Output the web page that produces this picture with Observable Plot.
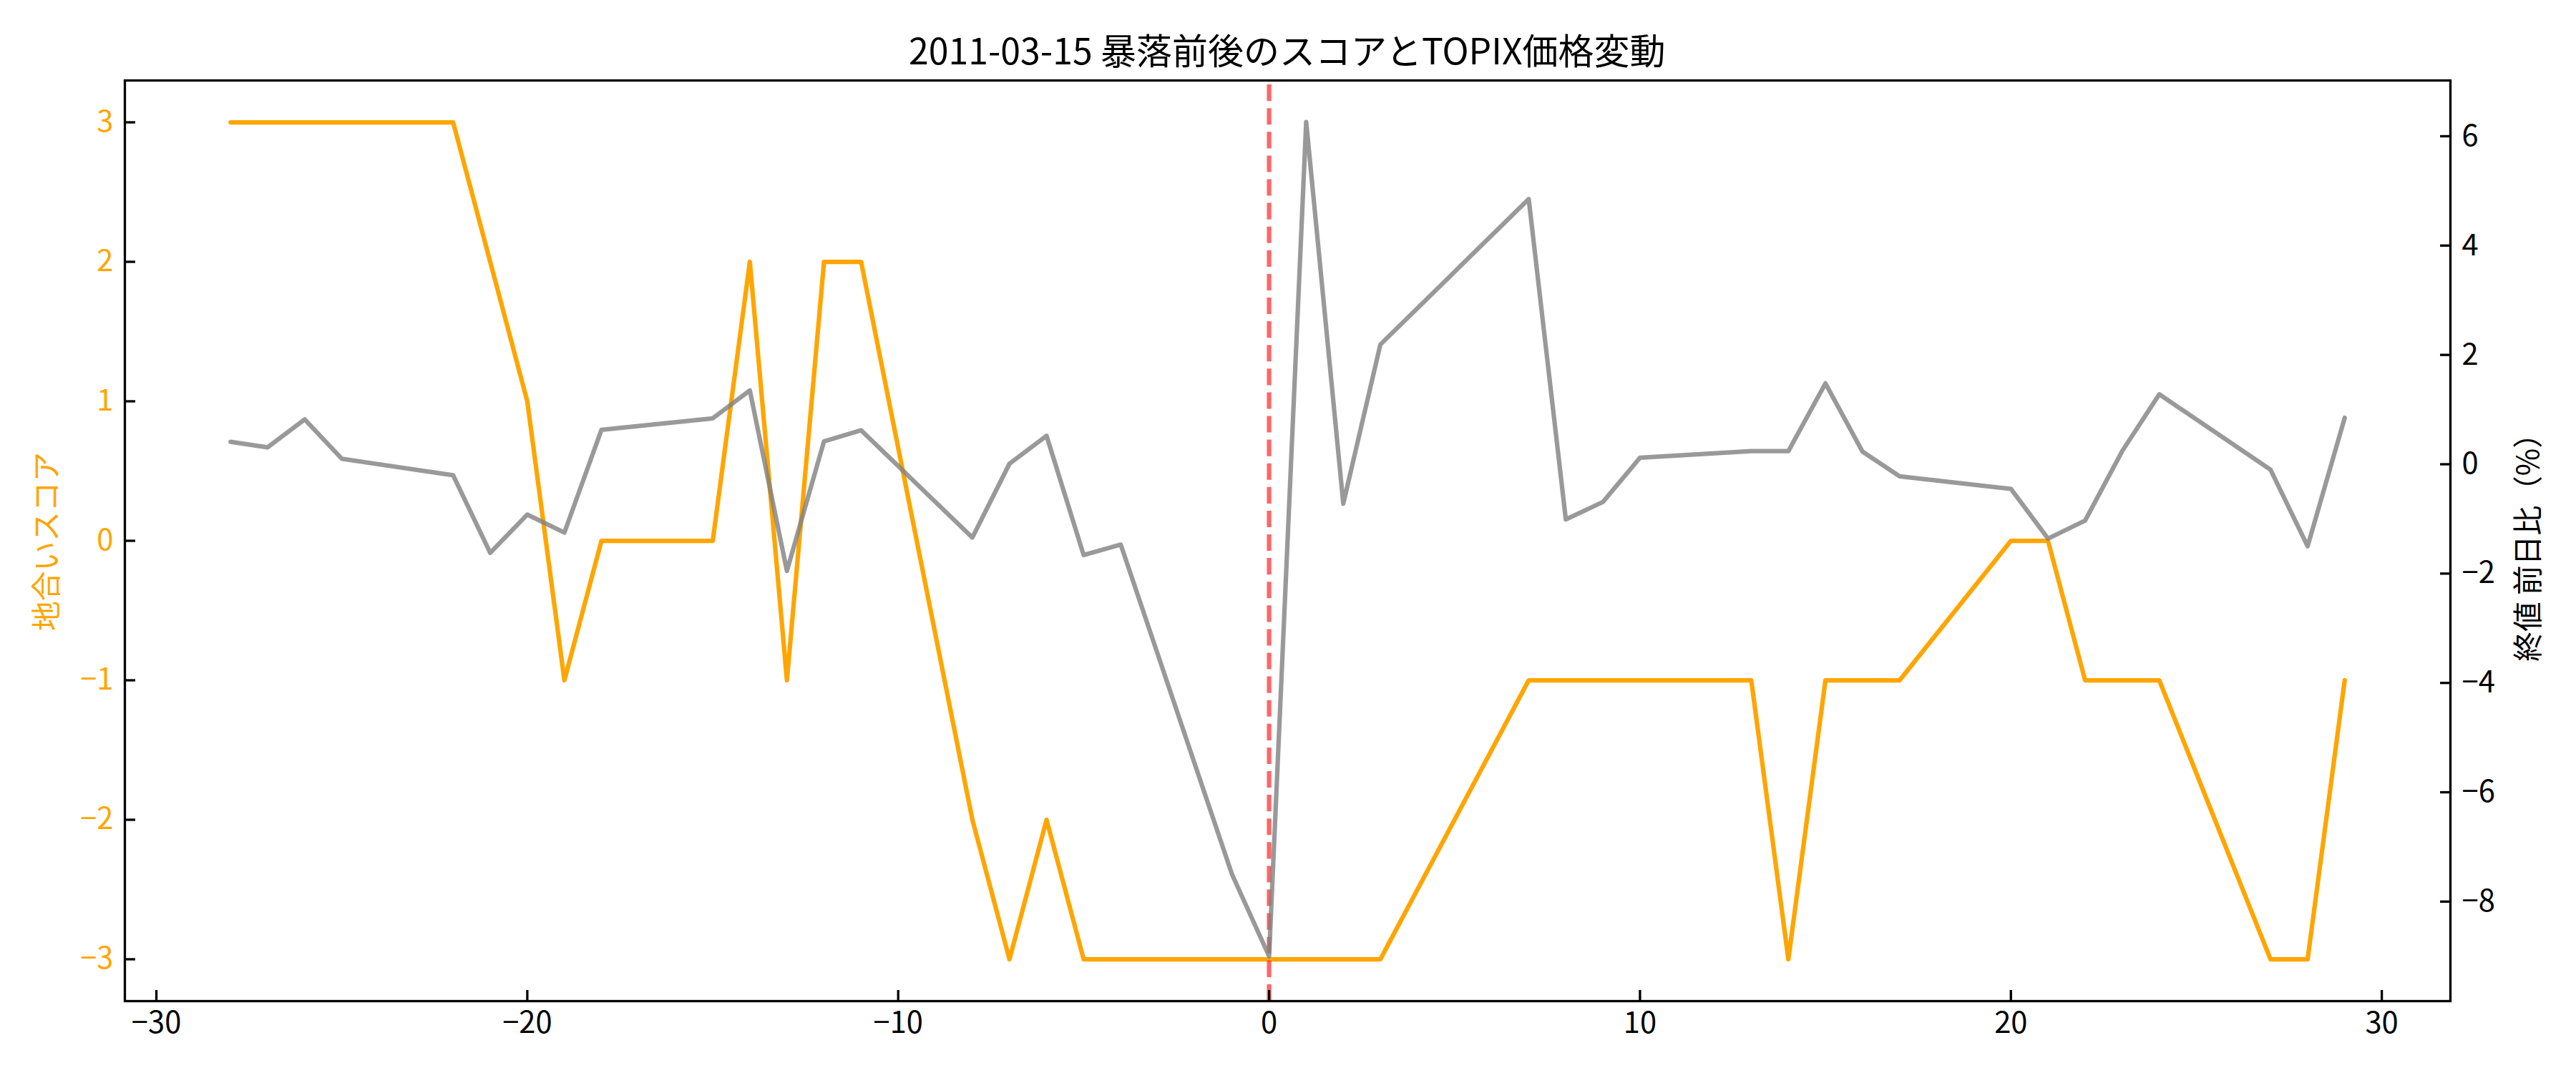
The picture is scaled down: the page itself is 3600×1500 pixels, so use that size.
<!DOCTYPE html>
<html>
<head>
<meta charset="utf-8">
<script src="https://cdn.jsdelivr.net/npm/d3@7"></script>
<script src="https://cdn.jsdelivr.net/npm/@observablehq/plot@0.6"></script>
<style>
  html, body { margin: 0; padding: 0; background: #fff; }
  #wrap { position: relative; width: 3600px; height: 1500px; font-family: "Noto Sans CJK JP", "Noto Sans", sans-serif; }
  #wrap svg { position: absolute; left: 0; top: 0; background: transparent; }
  .lbl { position: absolute; white-space: nowrap; font-size: 41.7px; line-height: 1; }
</style>
</head>
<body>
<div id="wrap"></div>
<script>
// ---- data ----
const days = [-28,-27,-26,-25,-22,-21,-20,-19,-18,-15,-14,-13,-12,-11,-8,-7,-6,-5,-4,-1,0,1,2,3,7,8,9,10,13,14,15,16,17,20,21,22,23,24,27,28,29];
const scores = [3,3,3,3,3,2,1,-1,0,0,2,-1,2,2,-2,-3,-2,-3,-3,-3,-3,-3,-3,-3,-1,-1,-1,-1,-1,-3,-1,-1,-1,0,0,-1,-1,-1,-3,-3,-1];
const topixChange = [0.41,0.31,0.82,0.10,-0.20,-1.62,-0.92,-1.25,0.63,0.84,1.35,-1.95,0.42,0.62,-1.34,0.01,0.52,-1.66,-1.47,-7.50,-9.00,6.26,-0.72,2.19,4.85,-1.01,-0.69,0.12,0.24,0.24,1.48,0.23,-0.22,-0.45,-1.36,-1.03,0.24,1.28,-0.10,-1.50,0.85];
const crashDay = [0];
const xTicks = [-30,-20,-10,0,10,20,30];
const leftTicks = [-3,-2,-1,0,1,2,3];
const rightTicks = [-8,-6,-4,-2,0,2,4,6];
const titleText = "2011-03-15 暴落前後のスコアとTOPIX価格変動";
const leftLabel = "地合いスコア";
const rightLabel = "終値 前日比（%）";

const scoreRows = days.map((d, i) => ({day: d, v: scores[i]}));
const topixRows = days.map((d, i) => ({day: d, v: topixChange[i]}));

const W = 3600, H = 1500;
const margins = {marginLeft: 174, marginRight: 176, marginTop: 112, marginBottom: 101};
const xDomain = [-30.85, 31.85];
const fmt = d3.format("d");
const lw = 6.25;
const font = {fontFamily: '"Noto Sans CJK JP", "Noto Sans", sans-serif', fontSize: "41.7px", background: "transparent", overflow: "visible"};

const p1 = Plot.plot({
  width: W, height: H, ...margins,
  style: font,
  x: {domain: xDomain, axis: null},
  y: {domain: [-3.3, 3.3], axis: null},
  marks: [
    Plot.line(scoreRows, {x: "day", y: "v", stroke: "orange", strokeWidth: lw}),
    Plot.ruleX(crashDay, {x: d => d, y1: -3.3, y2: 3.3, stroke: "red", strokeOpacity: 0.6, strokeWidth: lw, strokeDasharray: "23.1,10", strokeLinecap: "butt"}),
    Plot.axisX({ticks: xTicks, tickSize: -15, tickPadding: 30, tickFormat: fmt, strokeWidth: 3.3, label: null}),
    Plot.axisY({ticks: leftTicks, tickSize: -15, tickFormat: () => "", strokeWidth: 3.3, label: null}),
    Plot.axisY({ticks: leftTicks, tickSize: 0, tickPadding: 16, tickFormat: fmt, color: "orange", label: null}),
    Plot.frame({stroke: "black", strokeWidth: 3.3})
  ]
});

const p2 = Plot.plot({
  width: W, height: H, ...margins,
  style: font,
  x: {domain: xDomain, axis: null},
  y: {domain: [-9.82, 7.02], axis: null},
  marks: [
    Plot.line(topixRows, {x: "day", y: "v", stroke: "gray", strokeOpacity: 0.8, strokeWidth: lw}),
    Plot.axisY({anchor: "right", ticks: rightTicks, tickSize: -15, tickFormat: () => "", strokeWidth: 3.3, label: null}),
    Plot.axisY({anchor: "right", ticks: rightTicks, tickSize: 0, tickPadding: 16, tickFormat: fmt, color: "black", label: null})
  ]
});

const wrap = document.getElementById("wrap");
wrap.appendChild(p1);
wrap.appendChild(p2);

function addLabel(text, cx, cy, size, color, rot) {
  const el = document.createElement("div");
  el.className = "lbl";
  el.textContent = text;
  el.style.fontSize = size + "px";
  el.style.color = color;
  wrap.appendChild(el);
  const w = el.offsetWidth, h = el.offsetHeight;
  el.style.left = (cx - w / 2) + "px";
  el.style.top = (cy - h / 2) + "px";
  if (rot) el.style.transform = `rotate(${rot}deg)`;
}
addLabel(titleText, 1799, 68, 50, "black", 0);
addLabel(leftLabel, 63, 757, 41.7, "orange", -90);
addLabel(rightLabel, 3531, 755, 41.7, "black", -90);
</script>
</body>
</html>
